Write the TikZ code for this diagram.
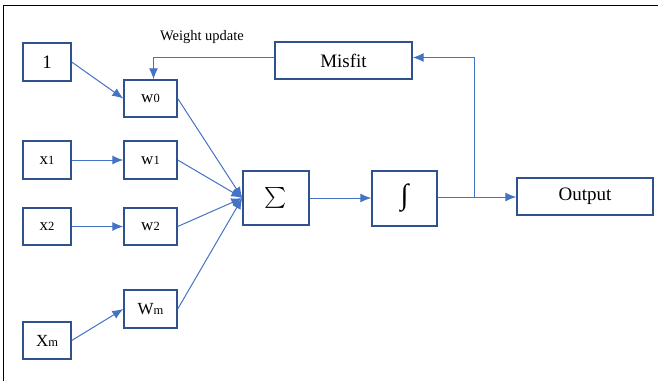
\documentclass[tikz,border=0pt]{standalone}
\usepackage{fontspec}
\setmainfont{Liberation Serif}
\usetikzlibrary{arrows.meta}
\definecolor{boxc}{HTML}{2F528F}
\definecolor{arrc}{HTML}{4472C4}
\tikzset{
  blk/.style={draw=boxc, line width=1.4bp, inner sep=0pt, fill=white},
  conn/.style={draw=arrc, line width=1bp, -{Latex[length=11bp,width=9bp]}},
}
\newcommand{\lbl}[2]{{\fontsize{17bp}{17bp}\selectfont #1}{\fontsize{12.5bp}{12.5bp}\selectfont #2}}
\begin{document}
\begin{tikzpicture}[x=1bp,y=-1bp]
\useasboundingbox (0,0) rectangle (658,381);
\draw[line width=1bp] (3,381) -- (3,5) -- (658,5);
% input boxes
\node[blk, minimum width=48bp, minimum height=38bp] (one) at (47,62) {\fontsize{19bp}{19bp}\selectfont 1};
\node[blk, minimum width=48bp, minimum height=38bp] (x1) at (47,160) {\lbl{x}{1}};
\node[blk, minimum width=48bp, minimum height=37bp] (x2) at (47,226.5) {\lbl{x}{2}};
\node[blk, minimum width=48bp, minimum height=37bp] (xm) at (47,340.5) {\lbl{X}{m}};
% weight boxes
\node[blk, minimum width=53bp, minimum height=37bp] (w0) at (150.5,98.5) {\lbl{w}{0}};
\node[blk, minimum width=53bp, minimum height=38bp] (w1) at (150.5,160) {\lbl{w}{1}};
\node[blk, minimum width=53bp, minimum height=37bp] (w2) at (150.5,226.5) {\lbl{w}{2}};
\node[blk, minimum width=53bp, minimum height=38bp] (wm) at (150.5,309) {\lbl{W}{m}};
% processing
\node[blk, minimum width=66bp, minimum height=54bp] (sum) at (276,198) {\scalebox{2.1}{$\sum$}};
\node[blk, minimum width=65bp, minimum height=55bp] (int) at (404.5,198.5) {\fontsize{29bp}{29bp}\selectfont ∫};
\node[blk, minimum width=136bp, minimum height=37bp] (out) at (585,196.5) {\fontsize{19bp}{19bp}\selectfont Output};
\node[blk, minimum width=137bp, minimum height=37bp] (mis) at (343.5,60.5) {\fontsize{19bp}{19bp}\selectfont Misfit};
\node (wu) at (202,37) {\fontsize{14.5bp}{14.5bp}\selectfont Weight update};
\coordinate (br) at (474,197);
% connectors
\draw[conn] (one.east) -- (w0.west);
\draw[conn] (x1.east) -- (w1.west);
\draw[conn] (x2.east) -- (w2.west);
\draw[conn] (xm.east) -- (wm.west);
\draw[conn] (w0.east) -- (sum.west);
\draw[conn] (w1.east) -- (sum.west);
\draw[conn] (w2.east) -- (sum.west);
\draw[conn] (wm.east) -- (sum.west);
\draw[conn] (sum.east) -- (sum.east -| int.west);
\draw[conn] (int.east |- br) -- (br -| out.west);
\draw[conn] (br) |- ([yshift=3bp]mis.east);
\draw[conn] ([yshift=3bp]mis.west) -| ([xshift=3bp]w0.north);
\end{tikzpicture}
\end{document}
